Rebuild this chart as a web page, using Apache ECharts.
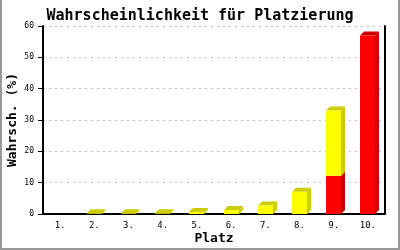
<!DOCTYPE html>
<html><head><meta charset="utf-8">
<script src="https://cdn.jsdelivr.net/npm/echarts@6/dist/echarts.min.js"></script>
<style>html,body{margin:0;padding:0;background:#fff}#c{width:400px;height:250px}</style>
</head><body><div id="c"></div>
<script>
var categories = ['1.','2.','3.','4.','5.','6.','7.','8.','9.','10.'];
var redValues = [0,0,0,0,0,0,0,0,12.2,57];
var yellowValues = [0,0.2,0.2,0.2,0.6,1.3,2.7,7.1,20.8,0];
var yTicks = [0,10,20,30,40,50,60];

var chart = echarts.init(document.getElementById('c'));
var font = '"DejaVu Sans Mono", "Liberation Mono", monospace';
var data = categories.map(function(c,i){return [i, redValues[i], yellowValues[i]];});
var D = 4;
function seg(api, x0, w, vb, vt, front, dark, withTop){
  var yb = api.coord([0, vb])[1];
  var yt = api.coord([0, vt])[1];
  var ch = [];
  ch.push({type:'polygon', shape:{points:[[x0+w,yb],[x0+w+D,yb-D],[x0+w+D,yt-D],[x0+w,yt]]}, style:{fill:dark}});
  if (withTop) ch.push({type:'polygon', shape:{points:[[x0,yt],[x0+D,yt-D],[x0+w+D,yt-D],[x0+w,yt]]}, style:{fill:dark}});
  ch.push({type:'rect', shape:{x:x0, y:yt, width:w, height:yb-yt}, style:{fill:front}});
  return ch;
}
chart.setOption({
  animation:false,
  title:{text:'Wahrscheinlichkeit für Platzierung', left:'center', top:4,
    textStyle:{fontFamily:font, fontSize:15, fontWeight:'bold', color:'#000'}},
  grid:{left:43, right:15, top:26, bottom:36, outerBoundsMode:'none', containLabel:false},
  xAxis:{type:'category', data:categories, name:'Platz', nameLocation:'middle', nameGap:18, nameMoveOverlap:false,
    nameTextStyle:{fontFamily:font, fontSize:13, fontWeight:'bold', color:'#000'},
    axisLine:{lineStyle:{color:'#000', width:2}}, axisTick:{show:false},
    axisLabel:{fontFamily:font, fontSize:9, color:'#000', margin:7}},
  yAxis:[{type:'value', min:0, max:60, interval:10, name:'Wahrsch. (%)', nameLocation:'middle', nameGap:24, nameMoveOverlap:false,
    nameTextStyle:{fontFamily:font, fontSize:13, fontWeight:'bold', color:'#000'},
    axisLine:{show:true, lineStyle:{color:'#000', width:2}},
    axisTick:{show:true, length:5, inside:false, lineStyle:{color:'#000', width:1}},
    axisLabel:{fontFamily:font, fontSize:8, color:'#000', margin:9, formatter:function(v){return yTicks.indexOf(v)>=0?String(v):'';}},
    splitLine:{show:true, lineStyle:{color:'#bbb', type:[2,4], width:1}}},
   {type:'value', min:0, max:60, interval:10, position:'right',
    axisLine:{show:true, lineStyle:{color:'#000', width:2}}, axisTick:{show:false}, axisLabel:{show:false}, splitLine:{show:false}}],
  graphic:[{type:'polyline', shape:{points:[[1,0],[1,249],[399,249],[399,0]]}, style:{stroke:'#999', lineWidth:2, fill:null}, z:100}],
  series:[{type:'custom', data:data, encode:{x:0, y:[1,2]}, clip:false,
    renderItem:function(params, api){
      var i = api.value(0), r = api.value(1), y = api.value(2);
      var cx = api.coord([i, 0])[0];
      var w = 15;
      var x0 = Math.round(cx - w/2);
      var ch = [];
      if (r > 0) ch = ch.concat(seg(api, x0, w, 0, r, '#ff0000', '#cc0000', !(y > 0)));
      if (y > 0) ch = ch.concat(seg(api, x0, w, r, r + y, '#ffff00', '#cccc00', true));
      return {type:'group', children:ch};
    }}]
});
</script></body></html>
